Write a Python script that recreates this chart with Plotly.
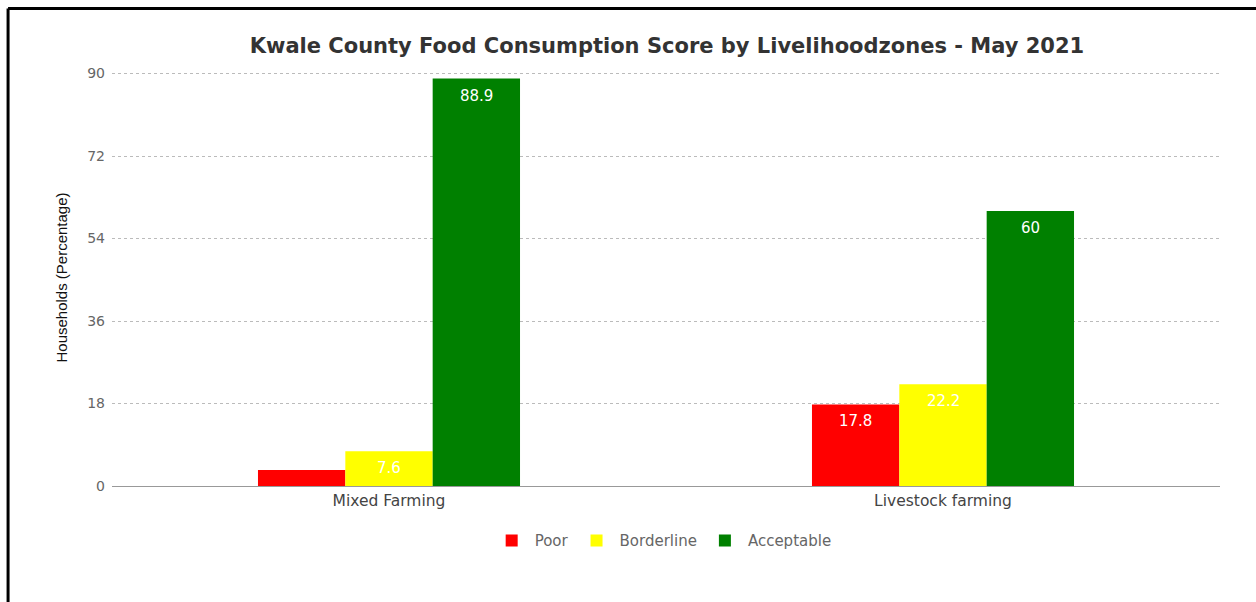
import plotly.graph_objects as go

# Food consumption score categories per livelihood zone (% of households)
zones = ["Mixed Farming", "Livestock farming"]
series_names = ["Poor", "Borderline", "Acceptable"]
poor = [3.5, 17.8]
borderline = [7.6, 22.2]
acceptable = [88.9, 60]
y_ticks = [0, 18, 36, 54, 72, 90]

colors = {"Poor": "#ff0000", "Borderline": "#ffff00", "Acceptable": "#008000"}
values = {"Poor": poor, "Borderline": borderline, "Acceptable": acceptable}

# layout geometry
plot_w = 1108
bargap = 0.527
bar_px = plot_w / len(zones) * (1 - bargap) / len(series_names)

fig = go.Figure()
for name in series_names:
    fig.add_trace(go.Bar(
        name=name,
        x=zones,
        y=values[name],
        marker=dict(color=colors[name], line=dict(width=0)),
        hoverinfo="x+y+name",
    ))

# value labels inside the top of each bar (skip bars too short to hold one)
for i, name in enumerate(series_names):
    for zone, v in zip(zones, values[name]):
        if v < 5:
            continue
        fig.add_annotation(
            x=zone, y=v, text=f"{v:g}", showarrow=False,
            xshift=(i - 1) * bar_px, yshift=-17, yanchor="middle",
            font=dict(color="white", size=15, family="DejaVu Sans, sans-serif"),
        )

fig.update_layout(
    width=1256,
    height=602,
    barmode="group",
    bargap=bargap,
    bargroupgap=0,
    paper_bgcolor="white",
    plot_bgcolor="white",
    margin=dict(l=112, r=36, t=69, b=116),
    font=dict(family="DejaVu Sans, sans-serif", color="#666666", size=13),
    title=dict(
        text="<b>Kwale County Food Consumption Score by Livelihoodzones - May 2021</b>",
        x=0.531, xanchor="center", y=0.925, yanchor="middle",
        font=dict(size=21, color="#333333", family="DejaVu Sans, sans-serif"),
    ),
    xaxis=dict(
        showgrid=False,
        showline=True, linecolor="#999999", linewidth=1,
        ticks="", tickfont=dict(size=15.5, color="#444444"),
    ),
    yaxis=dict(
        range=[0, 91],
        tickvals=y_ticks,
        showgrid=True, gridcolor="#bbbbbb", griddash="dot", gridwidth=1,
        zeroline=False,
        ticks="", ticklabelstandoff=6,
        tickfont=dict(size=14, color="#666666"),
        title=dict(text="Households (Percentage)",
                   font=dict(size=15, color="#111111", family="Liberation Sans, Arial, sans-serif"),
                   standoff=15),
    ),
    legend=dict(
        orientation="h", x=0.497, xanchor="center", y=-0.131, yanchor="middle",
        font=dict(size=15, color="#666666"),
        itemwidth=36,
    ),
)

# Frame lines along the left and top edges
fig.add_shape(type="line", xref="paper", yref="paper",
              x0=-0.0938, x1=-0.0938, y0=1.145, y1=-0.30,
              line=dict(color="black", width=3))
fig.add_shape(type="line", xref="paper", yref="paper",
              x0=-0.0938, x1=1.04, y0=1.145, y1=1.145,
              line=dict(color="black", width=3))

fig.write_html("out.html")
